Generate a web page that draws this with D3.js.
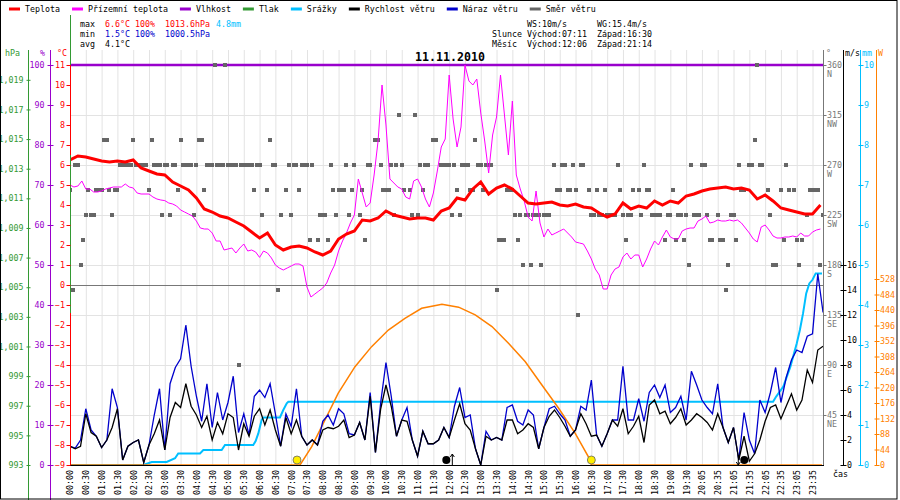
<!DOCTYPE html>
<html>
<head>
<meta charset="utf-8">
<script src="https://cdn.jsdelivr.net/npm/d3@7/dist/d3.min.js"></script>
<style>
  body { margin: 0; background: white; }
  svg text { font-family: "DejaVu Sans Mono", monospace; font-size: 8.3px; }
</style>
</head>
<body>
<div id="container"></div>
<script>
let w = 900;
let h = 500;

//x axis runs on the half-hour label slots (logger jumps from 19:30 to 20:05)
const slotLabels = ["00:00","00:30","01:00","01:30","02:00","02:30","03:00","03:30","04:00","04:30",
  "05:00","05:30","06:00","06:30","07:00","07:30","08:00","08:30","09:00","09:30",
  "10:00","10:30","11:00","11:30","12:00","12:30","13:00","13:30","14:00","14:30",
  "15:00","15:30","16:00","16:30","17:00","17:30","18:00","18:30","19:00","19:30",
  "20:05","20:35","21:05","21:35","22:05","22:35","23:05","23:35"];

//temperature, every half slot
const tempStep = 0.5;
const temp = [6.25,6.45,6.4,6.3,6.2,6.15,6.2,6.15,6.25,5.85,5.7,5.55,5.5,5.15,4.95,4.75,4.35,3.8,3.65,3.45,3.35,3.15,2.95,2.65,2.35,
  2.6,2.0,1.75,1.9,1.95,1.85,1.65,1.5,1.7,2.3,2.55,2.7,3.25,3.2,3.35,3.7,3.5,3.4,3.3,3.35,3.35,3.25,3.7,3.85,
  4.35,4.25,4.8,5.15,4.55,4.85,5.0,4.8,4.45,4.1,4.05,4.1,4.15,4.0,3.95,4.05,3.9,3.85,3.6,3.4,3.55,4.1,3.8,3.95,
  3.85,4.2,4.0,4.2,4.1,4.45,4.55,4.7,4.8,4.85,4.9,4.8,4.85,4.75,4.3,4.5,4.2,3.85,3.75,3.65,3.55,3.55,4.0];

//ground temperature, every quarter slot
const groundStep = 0.25;
const groundTemp = [5.0,4.9,4.95,5.2,4.8,4.8,4.65,4.65,4.7,4.8,4.85,4.9,4.9,4.9,5.05,4.9,4.85,4.6,4.55,4.55,
  4.55,4.4,4.3,4.25,4.22,4.1,4.05,3.95,3.75,3.65,3.55,3.45,3.2,2.85,2.8,2.8,2.6,2.2,2.2,1.75,
  1.8,1.85,1.6,1.85,2.05,1.7,1.75,1.65,1.38,
  1.7,1.6,1.35,1.0,0.85,0.75,0.85,0.95,1.05,1.05,0.95,-0.1,-0.6,-0.45,-0.3,-0.15,0.1,0.6,1.0,1.7,2.2,2.6,3.1,
  3.5,5.3,4.6,3.9,4.1,5.5,7.2,10.0,8.0,5.3,5.1,4.9,4.8,4.4,4.3,5.2,5.3,4.9,4.3,3.9,4.6,5.7,6.9,7.3,10.5,
  8.3,6.9,7.9,11,10.2,10.0,10.3,8.6,7.2,5.6,7.5,8.4,10.5,8.5,6.5,9.2,5.5,4.8,4.2,3.4,3.2,4.7,3.1,2.4,
  2.8,2.5,2.6,2.7,2.8,2.6,2.4,2.15,2.1,2.05,1.7,1.3,0.8,0.5,-0.2,-0.2,0.5,0.8,0.9,1.4,1.6,1.3,1.5,1.5,
  0.9,1.3,1.8,2.2,2.0,2.4,2.75,2.4,2.3,2.3,2.7,2.8,2.85,2.85,3.2,3.3,3.45,3.1,3.15,3.25,
  3.2,3.2,3.25,3.2,3.25,3.1,2.85,2.6,2.3,2.15,2.9,3.0,2.75,2.45,2.35,2.35,2.4,2.4,2.45,2.4,
  2.6,2.45,2.45,2.65,2.75,2.8];

//humidity stayed at 100 % all day
const humidityStep = 2;
const humidity = [100,100,100,100,100,100,100,100,100,100,100,100,100,100,100,100,100,100,100,100,100,100,100,100,100];

//wind speed and gust (m/s), every third of a slot
const windStep = 1 / 3;
const windSpeed = [1.5,1.3,1.5,4.1,2.6,2.3,1.4,2.0,3.0,4.5,0.4,1.5,1.8,2.0,0.2,1.6,2.5,3.6,1.2,3.8,5.0,4.6,6.5,4.7,4.0,3.0,3.9,2.0,3.4,2.5,4.1,3.8,1.2,3.3,2.3,3.9,
  4.5,3.2,4.4,2.8,1.5,3.8,2.5,3.6,2.3,1.6,2.0,1.6,2.8,3.0,2.9,3.1,3.6,2.2,2.4,3.4,2.0,5.5,1.0,4.5,6.4,4.7,2.3,3.6,3.5,2.0,0.7,2.7,1.7,1.7,2.0,3.0,
  2.2,3.6,4.9,3.3,2.8,1.3,0.0,2.3,2.0,2.2,2.0,3.6,3.6,2.5,2.8,3.3,3.0,1.3,3.0,3.9,4.4,3.8,3.1,2.3,2.8,4.1,3.3,2.3,2.4,1.5,2.5,3.6,3.1,4.5,2.5,3.1,
  3.9,1.8,4.8,5.2,4.1,4.3,3.3,3.8,4.5,3.2,3.6,4.1,3.8,3.4,2.8,4.1,3.0,1.8,3.0,0.4,2.3,0.3,0.9,2.0,3.5,4.6,4.8,3.7,4.7,5.7,4.4,5.2,7.6,6.6,9.2,9.5];
const windGust = [1.5,1.35,2.0,4.5,2.8,2.3,1.4,2.0,6.1,4.6,0.4,1.5,1.8,2.0,0.2,1.6,4.0,6.1,1.2,6.5,7.8,8.5,11.2,7.9,5.5,3.5,6.5,3.0,5.8,3.6,5.0,7.1,2.6,4.1,2.4,5.5,
  6.0,5.4,6.5,4.1,1.5,4.1,3.1,6.1,2.3,1.6,2.0,1.6,3.5,4.0,3.2,4.5,4.1,2.5,2.4,3.4,2.0,5.8,1.0,5.0,8.2,5.5,2.3,3.6,4.6,2.0,0.7,2.7,1.7,1.7,2.0,3.0,
  2.2,4.7,6.2,3.8,4.0,1.3,0.0,2.7,2.0,2.2,2.0,4.6,4.8,3.5,3.2,4.4,4.0,1.3,3.0,4.5,4.7,4.1,3.6,2.3,2.8,4.7,4.4,6.8,2.4,1.5,2.5,3.6,3.6,7.9,3.6,3.6,
  5.3,3.5,5.8,6.4,5.4,6.4,4.2,4.6,5.5,3.6,7.5,6.4,5.2,4.6,4.1,6.5,3.0,1.8,3.0,0.4,4.2,2.0,0.9,5.2,4.2,5.8,7.8,5.0,7.0,8.4,9.2,9.0,10.3,10.5,15.3,12.2];

//wind direction (degrees), one reading every 5 minutes, null = no reading
const dirStep = 1 / 6;
const windDir = [247.5,157.5,270,270,180,202.5,225,247.5,225,225, 247.5,247.5,247.5,292.5,292.5,247.5,225,247.5,247.5,270,
  270,270,270,270,292.5,270,270,270,270,270, 247.5,292.5,270,270,270,225,270,270,225,270,
  270,247.5,292.5,270,270,270,270,225,270,292.5, 292.5,247.5,270,270,270,360,270,270,270,360,
  270,270,270,270,90,270,270,270,270,270, 247.5,270,
  270,225,null,247.5,292.5,270,270,157.5,225,null, 247.5,270,225,270,270,247.5,270,270,270,202.5,
  270,null,202.5,225,225,225,202.5,270,247.5,225, 247.5,247.5,247.5,270,225,247.5,270,null,225,247.5,
  202.5,270,270,null,292.5,292.5,270,247.5,247.5,247.5, 270,225,270,315,270,247.5,null,247.5,225,315,
  225,270,247.5,270,270,null,292.5,292.5,null,270, 270,270,
  270,225,270,247.5,225,270,270,270,247.5,247.5, 292.5,270,270,247.5,270,270,270,null,157.5,202.5,
  202.5,202.5,247.5,247.5,247.5,225,202.5,225,180,225, 225,180,225,225,225,180,225,225,225,null,
  270,247.5,247.5,270,270,247.5,247.5,270,247.5,135, 270,270,null,247.5,225,225,247.5,225,225,247.5,
  225,225,225,225,270,247.5,225,202.5,225,225,
  247.5,null,247.5,225,270,247.5,247.5,225,225,225, 225,null,202.5,225,225,247.5,202.5,225,225,202.5,
  225,180,270,225,225,225,270,270,225,202.5, 202.5,null,225,202.5,202.5,157.5,180,225,225,202.5,
  270,247.5,247.5,null,270,270,292.5,360,270,270, null,247.5,225,180,180,null,247.5,202.5,270,247.5,
  null,247.5,202.5,180,202.5,null,225,247.5,247.5,247.5, 247.5,180,225];

//cumulative rain (mm) at the slots where it changes
const rainSlots = [0,4.64,5.17,6.12,6.65,6.85,8.23,8.44,9.6,9.81,11.6,11.75,11.92,12.13,12.23,13.29,13.5,13.72,13.82,44.5,44.7,45.15,45.6,46.0,46.2,46.4,46.6,46.8,47.0,47.2,47.6];
const rainMM = [0,0,0.075,0.075,0.17,0.29,0.29,0.375,0.375,0.5,0.5,0.6,0.79,1.125,1.19,1.19,1.375,1.54,1.58,1.58,1.71,1.96,2.46,3.04,3.375,3.79,4.29,4.54,4.63,4.79,4.79];

//solar radiation (W)
const solarSlots = [0,14.56,15.3,15.93,16.98,18.04,19.09,20.15,21.2,22.26,23.31,23.54,24.6,25.65,26.71,27.77,28.82,29.87,30.93,31.98,32.93,33.0,47.6];
const solarW = [0,0,52,109,204,279,336,383,416,445,454,456,448,426,393,345,293,227,161,90,14,0,0];

//sunrise 07:11, sunset 16:30, moonrise 12:06, moonset 21:14 (in slots)
const sunEvents = [14.37, 33.0];
const moonRise = 24.2;
const moonSet = 42.3;

const legendNames = ["Teplota", "Přízemní teplota", "Vlhkost", "Tlak", "Srážky", "Rychlost větru", "Náraz větru", "Směr větru"];
const legendColors = ["#ff0000", "#ff00ff", "#9900cc", "#339933", "#00bfff", "#000000", "#0000cc", "#666666"];

const tempTicks = [11,10,9,8,7,6,5,4,3,2,1,0,-1,-2,-3,-4,-5,-6,-7,-8,-9];
const humidityTicks = [100,90,80,70,60,50,40,30,20,10,0];
const pressureTicks = [1019,1017,1015,1013,1011,1009,1007,1005,1003,1001,999,997,995,993];
const dirTicks = [45,90,135,180,225,270,315,360];
const dirNames = ["NE","E","SE","S","SW","W","NW","N"];
const windTicks = [0,2,4,6,8,10,12,14,16];
const rainTicks = [0,1,2,3,4,5,6,7,8,9,10];
const solarTicks = [0,44,88,132,176,220,264,308,352,396,440,484,528];

let viz = d3.select("#container")
  .append("svg")
    .attr("width", w)
    .attr("height", h)
    .style("display", "block")
    .style("background-color", "white")
;

let x = d3.scaleLinear().domain([0, 47.6]).range([70, 822]);
let yT = d3.scaleLinear().domain([-9, 11]).range([465, 65]);
let yH = d3.scaleLinear().domain([0, 100]).range([465, 65]);
let yP = d3.scaleLinear().domain([993, 1020]).range([465, 65]);
let yDir = d3.scaleLinear().domain([0, 360]).range([465, 65]);
let yWind = d3.scaleLinear().domain([0, 16]).range([465, 265]);
let yRain = d3.scaleLinear().domain([0, 10]).range([465, 65]);
let ySol = d3.scaleLinear().domain([0, 528]).range([465, 279]);

viz.append("defs").append("clipPath").attr("id", "plotClip")
  .append("rect")
    .attr("x", 70)
    .attr("y", 50)
    .attr("width", 753)
    .attr("height", 416)
;

//grid
let grid = viz.append("g").attr("class", "grid");
grid.selectAll(".vgrid").data(slotLabels).enter()
  .append("line")
    .attr("x1", (d, i) => x(i) + 0.5)
    .attr("x2", (d, i) => x(i) + 0.5)
    .attr("y1", 50)
    .attr("y2", 465)
    .style("stroke", "#e3e3e3")
;
grid.selectAll(".hgrid").data(dirTicks).enter()
  .append("line")
    .attr("x1", 70)
    .attr("x2", 823)
    .attr("y1", d => Math.round(yDir(d)) + 0.5)
    .attr("y2", d => Math.round(yDir(d)) + 0.5)
    .style("stroke", "#e3e3e3")
;

let plot = viz.append("g").attr("clip-path", "url(#plotClip)");

//humidity
plot.append("path")
  .attr("d", d3.line().x((d, i) => x(i * humidityStep)).y(d => yH(d))(humidity))
  .attr("fill", "none")
  .style("stroke", "#9900cc")
  .style("stroke-width", 2.5)
;

//0 degC line
plot.append("line")
  .attr("x1", 70)
  .attr("x2", 823)
  .attr("y1", Math.round(yT(0)) + 0.5)
  .attr("y2", Math.round(yT(0)) + 0.5)
  .style("stroke", "#777777")
;

//wind direction squares
windDir.forEach(function(d, i){
  if (d === null) return;
  plot.append("rect")
    .attr("x", Math.round(x(i * dirStep)) - 2)
    .attr("y", Math.round(yDir(d)) - 2)
    .attr("width", 4)
    .attr("height", 4)
    .style("fill", "#666666")
  ;
});

//ground temperature
plot.append("path")
  .attr("d", d3.line().x((d, i) => x(i * groundStep)).y(d => yT(d))(groundTemp))
  .attr("fill", "none")
  .style("stroke", "#ff00ff")
  .style("stroke-width", 1)
;

//temperature
plot.append("path")
  .attr("d", d3.line().x((d, i) => x(i * tempStep)).y(d => yT(d))(temp))
  .attr("fill", "none")
  .style("stroke", "#ff0000")
  .style("stroke-width", 3)
;

//rain
plot.append("path")
  .attr("d", d3.line().x((d, i) => x(rainSlots[i])).y(d => yRain(d))(rainMM))
  .attr("fill", "none")
  .style("stroke", "#00bfff")
  .style("stroke-width", 2)
;

//solar radiation
plot.append("path")
  .attr("d", d3.line().x((d, i) => x(solarSlots[i])).y(d => ySol(d))(solarW))
  .attr("fill", "none")
  .style("stroke", "#ff8000")
  .style("stroke-width", 1.5)
;

//gust and wind speed
plot.append("path")
  .attr("d", d3.line().x((d, i) => x(i * windStep)).y(d => yWind(d))(windGust))
  .attr("fill", "none")
  .style("stroke", "#0000cc")
  .style("stroke-width", 1.3)
;
plot.append("path")
  .attr("d", d3.line().x((d, i) => x(i * windStep)).y(d => yWind(d))(windSpeed))
  .attr("fill", "none")
  .style("stroke", "#000000")
  .style("stroke-width", 1.3)
;

//sun and moon
viz.selectAll(".sun").data(sunEvents).enter()
  .append("circle")
    .attr("cx", d => x(d))
    .attr("cy", 460)
    .attr("r", 4)
    .style("fill", "#ffee00")
    .style("stroke", "#666")
    .style("stroke-width", 0.8)
;
viz.append("circle").attr("cx", x(moonRise) - 6).attr("cy", 460).attr("r", 4).style("fill", "black");
viz.append("circle").attr("cx", x(moonSet) + 6).attr("cy", 460).attr("r", 4).style("fill", "black");
viz.append("path")
  .attr("d", "M" + x(moonRise) + ",465V454M" + (x(moonRise) - 2) + ",457L" + x(moonRise) + ",454L" + (x(moonRise) + 2) + ",457")
  .attr("fill", "none")
  .style("stroke", "black")
;
viz.append("path")
  .attr("d", "M" + x(moonSet) + ",455V465M" + (x(moonSet) - 2) + ",462L" + x(moonSet) + ",465L" + (x(moonSet) + 2) + ",462")
  .attr("fill", "none")
  .style("stroke", "black")
;

//axis lines
function vline(xp, y1, y2, color){
  viz.append("line")
    .attr("x1", xp).attr("x2", xp)
    .attr("y1", y1).attr("y2", y2)
    .style("stroke", color)
  ;
}
vline(28.5, 50, 500, "#339933");
vline(50.5, 50, 500, "#9900cc");
vline(70.5, 15, 466, "#339933");
vline(70.5, 65, 155, "#ff0000");
vline(70.5, 313, 466, "#ff0000");
vline(823.5, 50, 465, "#777777");
vline(843.5, 50, 465, "#000000");
vline(860.5, 50, 465, "#00bfff");
vline(876.5, 50, 465, "#ff8000");
viz.append("line").attr("x1", 70).attr("x2", 824).attr("y1", 465.5).attr("y2", 465.5).style("stroke", "black");

//ticks and labels
function drawAxis(axis, xp, color, tickX1, tickX2){
  let g = viz.append("g")
    .attr("transform", "translate(" + xp + ",0)")
    .call(axis)
  ;
  g.attr("font-family", null).attr("font-size", null);
  g.select(".domain").remove();
  g.selectAll(".tick line").attr("x1", tickX1).attr("x2", tickX2).style("stroke", color);
  g.selectAll(".tick text")
    .style("fill", color)
    .style("font-size", "8.3px")
    .style("font-family", "'DejaVu Sans Mono', monospace")
  ;
  return g;
}
drawAxis(d3.axisLeft(yP).tickValues(pressureTicks).tickSize(0).tickPadding(5), 28.5, "#339933", -2, 2);
drawAxis(d3.axisLeft(yH).tickValues(humidityTicks).tickSize(0).tickPadding(6), 50.5, "#9900cc", -3, 3);
drawAxis(d3.axisLeft(yT).tickValues(tempTicks).tickSize(4).tickPadding(1.5), 70.5, "#ff0000", -4, 0);
let dirAxis = drawAxis(d3.axisRight(yDir).tickValues(dirTicks).tickSize(3).tickPadding(0.5), 823.5, "#777777", 0, 3);
dirAxis.selectAll(".tick")
  .append("text")
    .attr("x", 3.5)
    .attr("y", 11)
    .style("fill", "#777777")
    .text((d, i) => dirNames[i])
;
drawAxis(d3.axisRight(yWind).tickValues(windTicks).tickSize(3).tickPadding(0.5), 843.5, "#000000", -3, 3);
drawAxis(d3.axisRight(yRain).tickValues(rainTicks).tickSize(3).tickPadding(0.5), 860.5, "#00bfff", -2, 3);
drawAxis(d3.axisRight(ySol).tickValues(solarTicks).tickSize(3).tickPadding(0.5), 876.5, "#ff8000", -2, 3);

//axis titles
let titles = [["hPa", 5, "#339933"], ["%", 40, "#9900cc"], ["°C", 57, "#ff0000"],
  ["°", 826, "#777777"], ["m/s", 845, "#000000"], ["mm", 862, "#00bfff"], ["W", 878, "#ff8000"]];
titles.forEach(function(t){
  viz.append("text").attr("x", t[1]).attr("y", 56).style("fill", t[2]).text(t[0]);
});
viz.append("text").attr("x", 833).attr("y", 477).text("čas");

//time labels
viz.selectAll(".xlab").data(slotLabels).enter()
  .append("text")
    .attr("transform", (d, i) => "translate(" + (x(i) + 0.5) + ",470) rotate(-90)")
    .attr("text-anchor", "end")
    .attr("dy", "0.35em")
    .text(d => d)
;

//title
viz.append("text")
  .attr("x", 450)
  .attr("y", 61)
  .attr("text-anchor", "middle")
  .style("font-size", "11.6px")
  .style("font-weight", "bold")
  .text("11.11.2010")
;

//legend
let lx = 9;
legendNames.forEach(function(name, i){
  viz.append("line")
    .attr("x1", lx).attr("x2", lx + 11)
    .attr("y1", 9).attr("y2", 9)
    .style("stroke", legendColors[i])
    .style("stroke-width", 3)
  ;
  let t = viz.append("text").attr("x", lx + 16).attr("y", 12).text(name);
  lx = lx + 16 + t.node().getComputedTextLength() + 12;
});

//statistics
function statLine(y, parts){
  let t = viz.append("text").attr("y", y);
  parts.forEach(function(p){
    t.append("tspan").attr("x", p[0]).style("fill", p[2]).text(p[1]);
  });
}
statLine(27, [[80, "max", "black"], [105, "6.6°C", "#ff0000"], [135, "100%", "#ff0000"], [165, "1013.6hPa", "#ff0000"], [216, "4.8mm", "#00bfff"]]);
statLine(37, [[80, "min", "black"], [105, "1.5°C", "#0000cc"], [135, "100%", "#0000cc"], [165, "1000.5hPa", "#0000cc"]]);
statLine(47, [[80, "avg", "black"], [105, "4.1°C", "black"]]);
statLine(27, [[527, "WS:10m/s", "black"], [597, "WG:15.4m/s", "black"]]);
statLine(37, [[492, "Slunce", "black"], [527, "Východ:07:11", "black"], [597, "Západ:16:30", "black"]]);
statLine(47, [[492, "Měsíc", "black"], [527, "Východ:12:06", "black"], [597, "Západ:21:14", "black"]]);

//frame
viz.append("rect")
  .attr("x", 0.5)
  .attr("y", 0.5)
  .attr("width", 896.5)
  .attr("height", 498.5)
  .attr("fill", "none")
  .style("stroke", "black")
;
</script>
</body>
</html>
